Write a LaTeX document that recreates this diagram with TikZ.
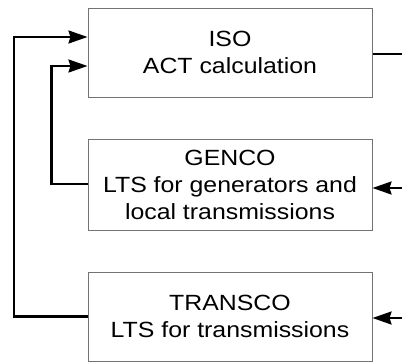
\documentclass[tikz,border=0pt]{standalone}
\usepackage{fontspec}
\setmainfont[FakeStretch=1.13]{Liberation Sans}
\usetikzlibrary{arrows.meta,calc}
\begin{document}
\begin{tikzpicture}[x=1pt,y=-1pt,
  block/.style={draw=black!55,line width=1pt,minimum width=284pt,inner sep=0pt,
    align=center,font=\fontsize{22}{27}\selectfont},
  link/.style={draw=black,line width=2.2pt},
  feed/.style={link,-{Stealth[length=19pt,width=13pt,inset=2pt]}}]
\useasboundingbox (0,0) rectangle (402,362);

% the three blocks
\node[block,minimum height=89pt] (iso) at (230,52.5) {ISO\\ACT calculation};
\node[block,minimum height=91pt] (genco) at (230,184.5) {GENCO\\LTS for generators and\\local transmissions};
\node[block,minimum height=89pt] (transco) at (230,316.5) {TRANSCO\\LTS for transmissions};

% loose ends on the right border
\coordinate (isoOut) at (402,54);
\coordinate (gencoIn) at (402,188);
\coordinate (transcoIn) at (402,318);

% feedback corners on the left
\coordinate (outerTop) at (14,37);
\coordinate (innerTop) at (51.5,66);

% right-hand connections
\draw[link] (iso.east |- isoOut) -- (isoOut);
\draw[feed] (gencoIn) -- (genco.east |- gencoIn);
\draw[feed] (transcoIn) -- (transco.east |- transcoIn);

% left-hand feedback paths into ISO
\draw[feed] (transco.west) -| (outerTop) -- (iso.west |- outerTop);
\draw[feed] ($(genco.west)+(0,-0.5)$) -| (innerTop) -- (iso.west |- innerTop);
\end{tikzpicture}
\end{document}
